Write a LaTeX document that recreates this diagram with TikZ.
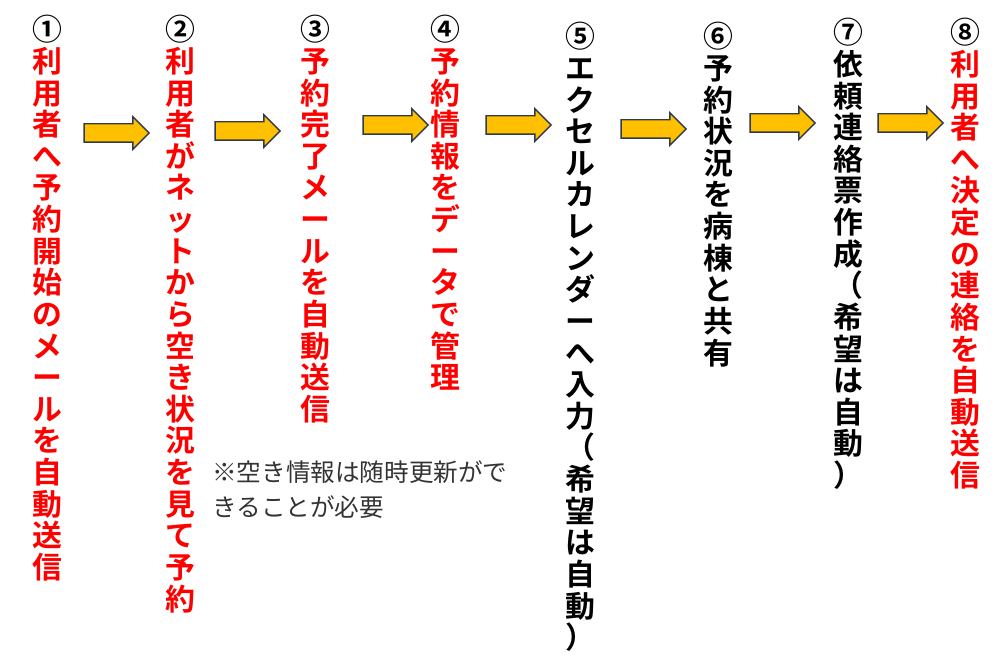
\documentclass[tikz,border=0pt]{standalone}
\usepackage{fontspec}
\usetikzlibrary{shapes.arrows}
\newfontfamily\cjkv[RawFeature=vert]{Noto Sans CJK JP Bold}
\newfontfamily\cjkh{Noto Sans CJK JP}
\definecolor{arrowfill}{HTML}{FFC000}
\definecolor{arrowline}{HTML}{2F3B4C}
\makeatletter
\newcommand\vtext[1]{\@tfor\vt@c:=#1\do{\vt@c\\}}
\makeatother
\begin{document}
\begin{tikzpicture}[
    x=0.02cm, y=-0.02cm,
    column/.style={anchor=north, align=center, inner sep=0pt,
      font=\cjkv\fontsize{17pt}{18pt}\selectfont},
    redcol/.style={column, text=red},
    blackcol/.style={column, text=black},
    flow/.style={single arrow, draw=arrowline, fill=arrowfill, thick,
      minimum height=1.3cm, inner sep=0.17cm, single arrow head extend=0.14cm}
]
\useasboundingbox (0,0) rectangle (993,665);

% Steps
\node[redcol] (s1) at (47,15) {\vtext{{\color{black}①}利用者へ予約開始のメールを自動送信}};
\node[redcol] (s2) at (180,15) {\vtext{{\color{black}②}利用者がネットから空き状況を見て予約}};
\node[redcol] (s3) at (315,15) {\vtext{{\color{black}③}予約完了メールを自動送信}};
\node[redcol] (s4) at (445,15) {\vtext{{\color{black}④}予約情報をデータで管理}};
\node[blackcol] (s5) at (580,22) {\vtext{⑤エクセルカレンダーへ入力（希望は自動）}};
\node[blackcol] (s6) at (718,22) {\vtext{⑥予約状況を病棟と共有}};
\node[blackcol] (s7) at (848,18) {\vtext{⑦依頼連絡票作成（希望は自動）}};
\node[redcol] (s8) at (965,18) {\vtext{{\color{black}⑧}利用者へ決定の連絡を自動送信}};

% Arrows
\node[flow] (a1) at (112,133) {};
\node[flow] (a2) at (243,131) {};
\node[flow] (a3) at (391,125) {};
\node[flow] (a4) at (514,125) {};
\node[flow] (a5) at (649,129) {};
\node[flow] (a6) at (778,123) {};
\node[flow] (a7) at (906,123) {};

% Note
\node[anchor=north west, align=left, inner sep=0pt, text=black!80,
  font=\cjkh\fontsize{14pt}{20pt}\selectfont] (note) at (212,460)
  {※空き情報は随時更新がで\\きることが必要};
\end{tikzpicture}
\end{document}
